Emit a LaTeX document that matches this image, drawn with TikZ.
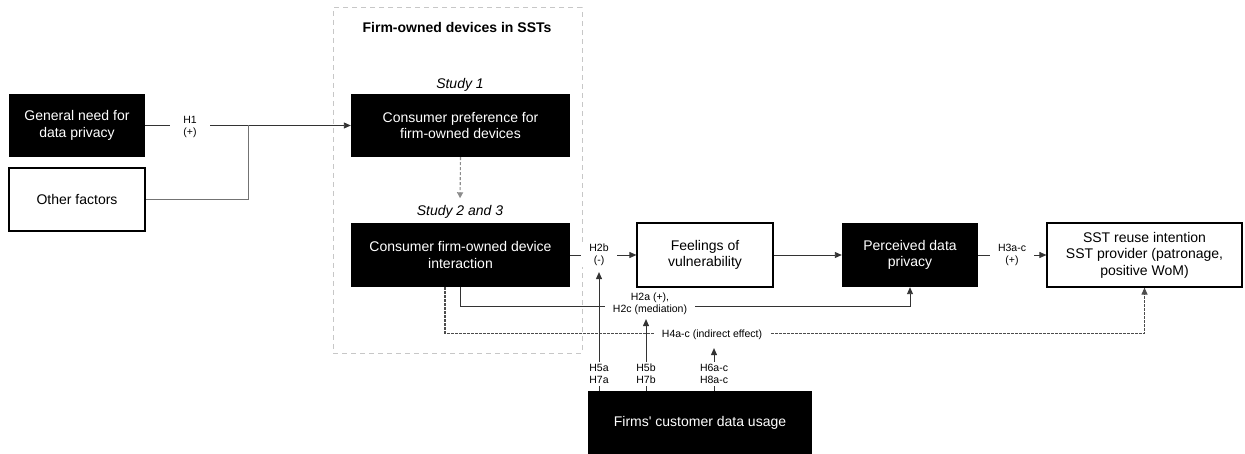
\documentclass[tikz,border=0pt]{standalone}
\usepackage{fontspec}
\setmainfont{Liberation Sans}
\usetikzlibrary{arrows.meta,backgrounds}
\begin{document}
\begin{tikzpicture}[x=1pt,y=-1pt,
  boxfont/.style={font=\fontsize{14}{16.5}\selectfont},
  blackbox/.style={boxfont,fill=black,text=white,minimum width=#1,minimum height=63pt,align=center,inner sep=0pt},
  whitebox/.style={boxfont,draw=black,line width=1.2pt,fill=white,text=black,minimum width=#1,minimum height=63pt,align=center,inner sep=0pt},
  lbl/.style={fill=white,font=\fontsize{10.5}{12}\selectfont,align=center,inner xsep=8pt,inner ysep=1pt},
  conn/.style={draw=black!80,line width=0.9pt},
  arr/.style={conn,-{Triangle[length=7pt,width=6pt]}},
  dotarr/.style={draw=black!70,line width=1.1pt,dash pattern=on 2.5pt off 1.5pt,-{Triangle[length=7pt,width=6pt]}},
  studylbl/.style={font=\itshape\fontsize{14}{16}\selectfont,inner sep=2pt}
]
\useasboundingbox (0,0) rectangle (1245,454);

% group container
\node[draw=black!22,line width=1pt,dash pattern=on 5pt off 4pt,minimum width=249pt,minimum height=345pt,inner sep=0pt] (grp) at (457.5,180.5) {};
\node[font=\bfseries\fontsize{14}{16}\selectfont] (title) at (457,27) {Firm-owned devices in SSTs};
\node[studylbl] (s1) at (460,85) {Study 1};
\node[studylbl] (s23) at (460,212) {Study 2 and 3};

% boxes
\node[blackbox=136pt] (gen) at (77,125.5) {General need for\\data privacy};
\node[whitebox=136pt] (oth) at (77,199.5) {Other factors};
\node[blackbox=219pt] (pref) at (460.5,125.5) {Consumer preference for\\firm-owned devices};
\node[blackbox=219pt,minimum height=64pt] (inter) at (460.5,255) {Consumer firm-owned device\\interaction};
\node[whitebox=136pt,minimum height=64pt] (feel) at (705,255) {Feelings of\\vulnerability};
\node[blackbox=136pt,minimum height=64pt] (perc) at (910,255) {Perceived data\\privacy};
\node[whitebox=195pt,minimum height=64pt] (sst) at (1144.5,255) {SST reuse intention\\SST provider (patronage,\\positive WoM)};
\node[blackbox=224pt] (firms) at (700,422.5) {Firms\textquotesingle{} customer data usage};

% labels
\node[lbl,inner xsep=13pt] (l1) at (190,127) {H1\\(+)};
\node[lbl] (l2b) at (599,255) {H2b\\(-)};
\node[lbl] (l3) at (1012,255) {H3a-c\\(+)};
\node[lbl] (l2a) at (650,304) {H2a (+),\\H2c (mediation)};
\node[lbl] (l4) at (712,335) {H4a-c (indirect effect)};
\node[lbl,inner xsep=3pt,inner ysep=2pt] (l5a) at (599,374) {H5a\\H7a};
\node[lbl,inner xsep=3pt,inner ysep=2pt] (l5b) at (646,374) {H5b\\H7b};
\node[lbl,inner xsep=3pt,inner ysep=2pt] (l6) at (714,374) {H6a-c\\H8a-c};
\coordinate (j1) at (248,125.5);

\begin{scope}[on background layer]
  \draw[arr] (gen.east) -- (pref.west);
  \draw[conn,draw=black!55] (oth.east) -| (j1);
  \draw[draw=black!45,line width=1.1pt,dash pattern=on 3pt off 2pt,-{Triangle[length=6pt,width=6pt]},shorten >=5pt] (pref.south) -- (s23.north);
  \draw[arr] (inter.east) -- (feel.west);
  \draw[arr] (feel.east) -- (perc.west);
  \draw[arr] (perc.east) -- (sst.west);
  \draw[arr] (inter.south) -- ++(0,19) -| (perc.south);
  \draw[dotarr] ([xshift=-15.5pt]inter.south) -- ++(0,46) -| (sst.south);
  \draw[arr,shorten >=5pt] (firms.north -| l5a) -- (l2b.south);
  \draw[arr,shorten >=3pt] (firms.north -| l5b) -- (l2a.south -| l5b);
  \draw[arr,shorten >=7pt] (firms.north -| l6) -- (l4.south -| l6);
\end{scope}
\end{tikzpicture}
\end{document}
